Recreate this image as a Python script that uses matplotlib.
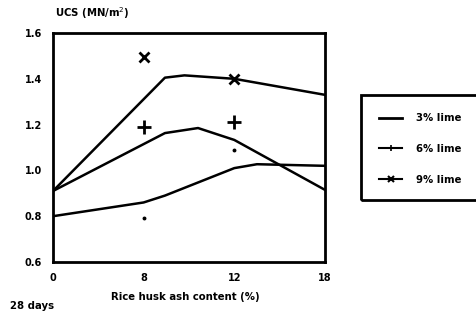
import matplotlib
matplotlib.use("Agg")
import matplotlib.pyplot as plt
from matplotlib.lines import Line2D
from matplotlib.patches import Rectangle

# Data
categories = ["0", "8", "12", "18"]
cat_pos = [0, 1, 2, 3]
yticks = [0.6, 0.8, 1.0, 1.2, 1.4, 1.6]

# fitted curves (x in category-position units)
curve3_x = [0, 1.0, 1.235, 2.0, 2.25, 3.0]
curve3_y = [0.80, 0.86, 0.89, 1.01, 1.027, 1.02]
curve6_x = [0, 1.235, 1.6, 2.0, 3.0]
curve6_y = [0.91, 1.163, 1.185, 1.133, 0.915]
curve9_x = [0, 1.235, 1.45, 2.0, 3.0]
curve9_y = [0.91, 1.405, 1.415, 1.40, 1.33]

# measured points at 8% and 12%
pts_x = [1, 2]
pts3_y = [0.79, 1.09]
pts6_y = [1.19, 1.21]
pts9_y = [1.495, 1.40]

legend_labels = ["3% lime", "6% lime", "9% lime"]

fig = plt.figure(figsize=(4.76, 3.2), dpi=100)
ax = fig.add_axes([0.1113, 0.18125, 0.5714, 0.7156])

lw = 1.8
ax.plot(curve3_x, curve3_y, color="black", lw=lw)
ax.plot(curve6_x, curve6_y, color="black", lw=lw)
ax.plot(curve9_x, curve9_y, color="black", lw=lw)

ax.plot(pts_x, pts3_y, ls="none", marker="o", ms=1.8, color="black")
ax.plot(pts_x, pts6_y, ls="none", marker="+", ms=10, mew=2, color="black")
ax.plot(pts_x, pts9_y, ls="none", marker="x", ms=7, mew=2, color="black")

ax.set_xlim(0, 3)
ax.set_ylim(0.6, 1.6)
ax.set_xticks(cat_pos)
ax.set_xticklabels(categories)
ax.set_yticks(yticks)
ax.set_yticklabels([f"{v:.1f}" for v in yticks])
ax.tick_params(length=0, labelsize=7, pad=8)
for lab in ax.get_xticklabels() + ax.get_yticklabels():
    lab.set_fontweight("bold")
for s in ax.spines.values():
    s.set_linewidth(2)

fs = 7.3
fig.text(55 / 476, 1 - 13 / 320, "UCS (MN/m$^2$)", fontsize=fs, fontweight="bold",
         va="center", ha="left")
fig.text(185 / 476, 1 - 297 / 320, "Rice husk ash content (%)", fontsize=fs,
         fontweight="bold", va="center", ha="center")
fig.text(10 / 476, 1 - 306 / 320, "28 days", fontsize=fs, fontweight="bold",
         va="center", ha="left")

# legend box
rect = Rectangle((361 / 476, 1 - 200 / 320), 130 / 476, 105 / 320, transform=fig.transFigure,
                 fill=False, lw=2, ec="black", clip_on=False)
fig.add_artist(rect)
handles = [
    Line2D([], [], color="black", lw=2),
    Line2D([], [], color="black", lw=1.5, marker="+", ms=5, mew=1.2),
    Line2D([], [], color="black", lw=1.5, marker="x", ms=4, mew=1.5),
]
leg = fig.legend(handles, legend_labels, loc="upper left",
                 bbox_to_anchor=(374 / 476, 1 - 108 / 320), frameon=False,
                 fontsize=fs, handlelength=2.3, labelspacing=2.05, handletextpad=1.3,
                 borderpad=0)
for t in leg.get_texts():
    t.set_fontweight("bold")

fig.savefig("out.png", dpi=100)
